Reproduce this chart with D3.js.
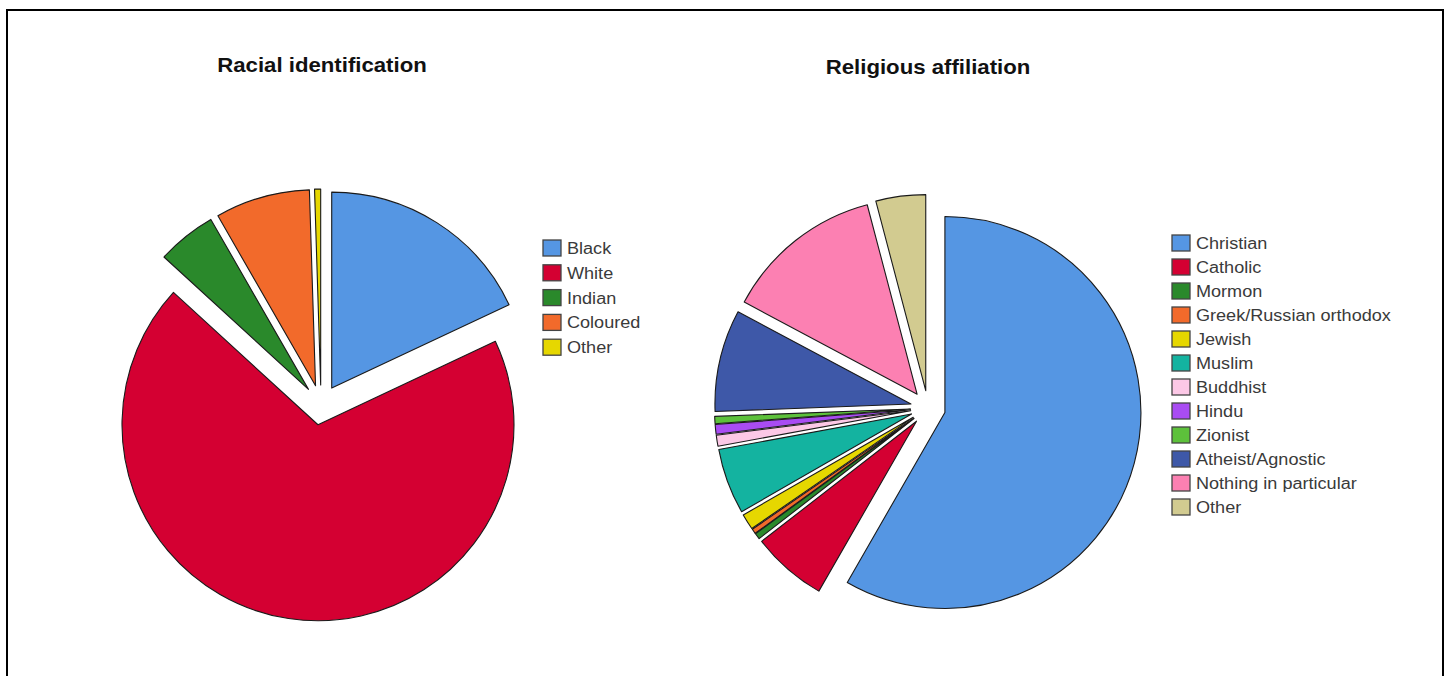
<!DOCTYPE html>
<html>
<head>
<meta charset="utf-8">
<script src="https://cdn.jsdelivr.net/npm/d3@7"></script>
<style>
  html, body { margin: 0; padding: 0; background: #fff; }
  svg { display: block; }
</style>
</head>
<body>
<svg id="chart" width="1450" height="676"></svg>
<script>
// Racial identification
const raceLabels = ["Black", "White", "Indian", "Coloured", "Other"];
const raceValues = [18.0, 68.8, 4.9, 7.8, 0.5];
const raceColors = ["#5596e3", "#d40032", "#2a892b", "#f26a2b", "#e6d700"];

// Religious affiliation
const religionLabels = ["Christian", "Catholic", "Mormon", "Greek/Russian orthodox", "Jewish", "Muslim",
  "Buddhist", "Hindu", "Zionist", "Atheist/Agnostic", "Nothing in particular", "Other"];
const religionValues = [58.3, 6.2, 0.5, 0.4, 1.3, 5.4, 0.9, 0.8, 0.6, 8.4, 13.1, 4.1];
const religionColors = ["#5596e3", "#d40032", "#2a892b", "#f26a2b", "#e6d700", "#14b3a0",
  "#fcc8e6", "#a94cf3", "#5dc13b", "#3e58a8", "#fc80b2", "#d2cb90"];

const svg = d3.select("#chart");

// outer frame
svg.append("rect")
  .attr("x", 7).attr("y", 10)
  .attr("width", 1436).attr("height", 700)
  .attr("fill", "none").attr("stroke", "#000").attr("stroke-width", 2);

const FONT = "'Liberation Sans', Arial, sans-serif";

function drawPie(cfg) {
  const g = svg.append("g");
  const pie = d3.pie().sort(null).value(d => d.value);
  const arc = d3.arc().innerRadius(0).outerRadius(cfg.r);
  const data = cfg.labels.map((l, i) => ({ label: l, value: cfg.values[i], color: cfg.colors[i] }));

  // every slice is pulled out along its bisector
  g.selectAll("path")
    .data(pie(data))
    .join("path")
    .attr("d", arc)
    .attr("fill", d => d.data.color)
    .attr("stroke", "#1a1a1a")
    .attr("stroke-width", 1.1)
    .attr("stroke-linejoin", "round")
    .attr("transform", d => {
      const mid = (d.startAngle + d.endAngle) / 2;
      const x = cfg.cx + Math.sin(mid) * cfg.explode;
      const y = cfg.cy - Math.cos(mid) * cfg.explode;
      return `translate(${x},${y})`;
    });

  // title
  svg.append("text")
    .attr("transform", `translate(${cfg.titleX},${cfg.titleY}) scale(1.11,1)`)
    .attr("text-anchor", "middle")
    .attr("font-family", FONT)
    .attr("font-weight", "bold")
    .attr("font-size", 20)
    .attr("fill", "#111")
    .text(cfg.title);

  // legend
  const lg = svg.append("g");
  const rows = lg.selectAll("g")
    .data(data)
    .join("g")
    .attr("transform", (d, i) => `translate(${cfg.legendX},${cfg.legendY + i * cfg.legendStep})`);
  rows.append("rect")
    .attr("x", 0).attr("y", -8)
    .attr("width", 18).attr("height", 16)
    .attr("fill", d => d.color)
    .attr("stroke", "#444")
    .attr("stroke-width", 1.3);
  rows.append("text")
    .attr("transform", "translate(24,6) scale(1.13,1)")
    .attr("font-family", FONT)
    .attr("font-size", 16)
    .attr("fill", "#3a3a3a")
    .text(d => d.label);
}

drawPie({
  labels: raceLabels, values: raceValues, colors: raceColors,
  cx: 321, cy: 405, r: 196, explode: 20,
  title: "Racial identification", titleX: 322, titleY: 72,
  legendX: 543, legendY: 248, legendStep: 24.8
});

drawPie({
  labels: religionLabels, values: religionValues, colors: religionColors,
  cx: 928, cy: 408, r: 196, explode: 17.5,
  title: "Religious affiliation", titleX: 928, titleY: 74,
  legendX: 1172, legendY: 243, legendStep: 24
});
</script>
</body>
</html>
